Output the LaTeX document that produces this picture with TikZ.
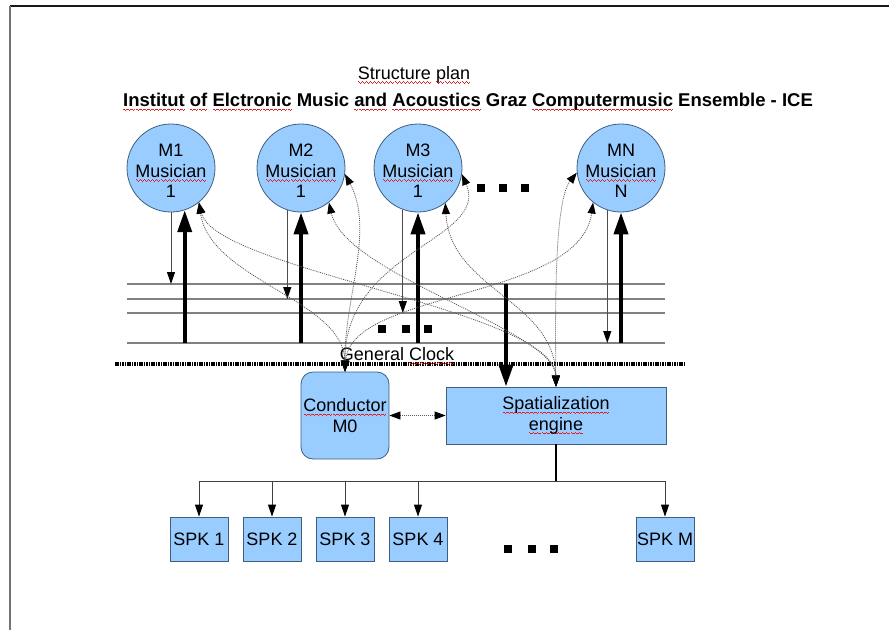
\documentclass[tikz,border=0pt]{standalone}
\usepackage{fontspec}
\setmainfont{Liberation Sans}
\usetikzlibrary{arrows.meta}

\definecolor{nodeblue}{HTML}{99CCFF}
\definecolor{nodeedge}{HTML}{3F5F80}
\definecolor{staffgray}{HTML}{808080}
\definecolor{wavered}{HTML}{E02020}

% red wavy underline, as a spell checker marks words
\newbox\wordbox
\newcommand\wavecell{\hbox{%
  \vrule height -2pt depth 3pt width 1pt%
  \vrule height -2.7pt depth 3.7pt width 1pt%
  \vrule height -3.4pt depth 4.4pt width 1pt%
  \vrule height -2.7pt depth 3.7pt width 1pt}}
\newcommand\spellwave[1]{\leavevmode\setbox\wordbox=\hbox{#1}%
  \rlap{\color{wavered}\hbox to\wd\wordbox{\xleaders\wavecell\hfil}}\copy\wordbox}
\newcommand\labelfont{\fontsize{18}{20.5}\selectfont}

\begin{document}
\begin{tikzpicture}[x=1pt,y=-1pt,
  musician/.style={circle, draw=nodeedge, fill=nodeblue, line width=0.8pt,
    minimum size=88pt, inner sep=0pt},
  mtext/.style={align=center, font=\labelfont, inner sep=0pt},
  box/.style={draw=nodeedge, fill=nodeblue, line width=0.8pt, inner sep=0pt,
    align=center, font=\labelfont},
  spk/.style={box, minimum width=58pt, minimum height=44pt},
  staff/.style={draw=staffgray, line width=1.2pt},
  thinarrow/.style={draw=black!70, line width=1pt,
    -{Triangle[length=12pt,width=8pt,color=black]}},
  thickarrow/.style={draw=black, line width=4pt,
    -{Triangle[length=22pt,width=14pt]}},
  cue/.style={draw=black!65, line width=0.8pt, dash pattern=on 1pt off 1pt,
    {Triangle[length=11pt,width=8pt,color=black]}-{Triangle[length=11pt,width=8pt,color=black]}},
  busline/.style={draw=black!75, line width=1pt},
  busarrow/.style={busline, -{Triangle[length=12pt,width=8pt,color=black]}},
  dotsq/.style={fill=black, minimum size=7.5pt, inner sep=0pt},
]
\useasboundingbox (0,0) rectangle (889,630);

% page edges
\draw[line width=2pt, black!90] (10,6) -- (889,6);
\draw[line width=2pt, black!55] (10,6) -- (10,630);

% headings
\node[font=\labelfont] (plan) at (414,75) {\spellwave{Structure} \spellwave{plan}};
\node[font=\fontsize{18.5}{21}\selectfont\bfseries] (inst) at (468,102)
  {\spellwave{Institut} \spellwave{of} \spellwave{Elctronic} Music \spellwave{and} \spellwave{Acoustics} Graz \spellwave{Computermusic} Ensemble - ICE};

% staff lines
\coordinate (l1) at (127,284); \coordinate (l1e) at (665,284);
\coordinate (l2) at (127,299); \coordinate (l2e) at (665,299);
\coordinate (l3) at (127,313); \coordinate (l3e) at (665,313);
\coordinate (l4) at (127,343); \coordinate (l4e) at (665,343);
\foreach \a/\b in {l1/l1e,l2/l2e,l3/l3e,l4/l4e} \draw[staff] (\a) -- (\b);

% musicians
\node[musician, label={[mtext, yshift=-3pt]center:M1\\\spellwave{Musician}\\1}] (m1) at (171,168) {};
\node[musician, label={[mtext, yshift=-3pt]center:M2\\\spellwave{Musician}\\1}] (m2) at (301,168) {};
\node[musician, label={[mtext, yshift=-3pt]center:M3\\\spellwave{Musician}\\1}] (m3) at (418,168) {};
\node[musician, label={[mtext, yshift=-3pt]center:MN\\\spellwave{Musician}\\N}] (mn) at (621,168) {};

\node[dotsq, minimum size=8pt] (t1) at (481,188) {};
\node[dotsq, minimum size=8pt] (t2) at (503,188) {};
\node[dotsq, minimum size=8pt] (t3) at (525,188) {};

\node[dotsq] (s1) at (382,329) {};
\node[dotsq] (s2) at (406,329) {};
\node[dotsq] (s3) at (428,329) {};

% conductor and spatialization engine
\node[box, rounded corners=12pt, minimum width=88pt, minimum height=87pt]
  (con) at (345,415.5) {\spellwave{Conductor}\\M0};
\node[box, minimum width=220pt, minimum height=57pt]
  (spat) at (556,415.5) {\spellwave{Spatialization}\\\spellwave{engine}};

% general clock
\coordinate (clkL) at (115,364);
\coordinate (clkR) at (684,364);
\draw[line width=4pt, dash pattern=on 1.6pt off 0.8pt] (clkL) -- (clkR);
\node[font=\labelfont, inner sep=0pt] (clock) at (397,356) {General \spellwave{Clock}};

% musicians write to the staff
\draw[thinarrow] (m1.south) -- (m1.south |- l1);
\draw[thinarrow] (m2.-108) -- (m2.-108 |- l2);
\draw[thinarrow] (m3.-110) -- (m3.-110 |- l3);
\draw[thinarrow] (mn.-108) -- (mn.-108 |- l4);

% staff feeds the musicians
\draw[thickarrow] (m1.-72 |- l4) -- (m1.-72);
\draw[thickarrow] (m2.south |- l4) -- (m2.south);
\draw[thickarrow] (m3.south |- l4) -- (m3.south);
\draw[thickarrow] (mn.south |- l4) -- (mn.south);

% staff feeds the spatialization engine
\coordinate (tap) at (506,284);
\draw[thickarrow] (tap) -- (tap |- spat.north);

% cue links to the conductor
\draw[cue] (m1.-51) .. controls (210,280) and (344,300) .. (con.north);
\draw[cue] (m2.-8) .. controls (375,230) and (344,300) .. (con.north);
\draw[cue] (m3.-8) .. controls (490,240) and (344,250) .. (con.north);
\draw[cue] (mn.231) .. controls (580,300) and (350,290) .. (con.north);

% cue links to the spatialization engine
\draw[cue] (m1.-51) .. controls (215,270) and (555,310) .. (spat.north);
\draw[cue] (m2.-51) .. controls (345,275) and (555,330) .. (spat.north);
\draw[cue] (m3.-52) .. controls (450,290) and (555,300) .. (spat.north);
\draw[cue] (mn.186) .. controls (555,200) and (555,300) .. (spat.north);

\draw[cue] (con.east) -- (spat.west);

% speakers
\node[spk] (spk1) at (199,539) {SPK 1};
\node[spk] (spk2) at (272,539) {SPK 2};
\node[spk] (spk3) at (345,539) {SPK 3};
\node[spk] (spk4) at (418,539) {SPK 4};
\node[spk] (spkm) at (665,539) {SPK M};

\node[dotsq] (b1) at (508,549) {};
\node[dotsq] (b2) at (532,549) {};
\node[dotsq] (b3) at (554,549) {};

% speaker bus
\draw[draw=black, line width=1.5pt] (spat.south) -- ++(0,37) coordinate (busj);
\draw[busline] (busj -| spk1.north) -- (busj -| spkm.north);
\foreach \s in {spk1,spk2,spk3,spk4,spkm}
  \draw[busarrow] (busj -| \s.north) -- (\s.north);
\end{tikzpicture}
\end{document}
